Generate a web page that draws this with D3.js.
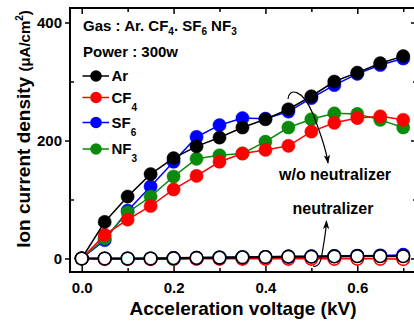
<!DOCTYPE html>
<html>
<head>
<meta charset="utf-8">
<script src="https://cdn.jsdelivr.net/npm/d3@7"></script>
<style>
  html, body { margin: 0; padding: 0; background: #fff; }
  svg { display: block; }
  text { font-family: "Liberation Sans", Arial, sans-serif; font-weight: bold; fill: #000; }
</style>
</head>
<body>
<svg id="chart" width="414" height="324"></svg>
<script>
// Acceleration voltage (kV)
const voltage = [0, 0.05, 0.1, 0.15, 0.2, 0.25, 0.3, 0.35, 0.4, 0.45, 0.5, 0.55, 0.6, 0.65, 0.7];

// Ion current density without neutralizer (uA/cm^2)
const arNoNeut  = [0, 62, 105, 143, 170, 190, 205, 222, 236, 253, 275, 300, 315, 331, 343];
const cf4NoNeut = [0, 40, 66, 89, 117, 140, 164, 178, 184, 191, 215, 230, 238, 241, 235];
const sf6NoNeut = [0, 31, 81, 122, 164, 206, 226, 238, 237, 249, 272, 294, 313, 328, 339];
const nf3NoNeut = [0, 34, 78, 105, 139, 169, 175, 178, 198, 222, 236, 246, 245, 235, 222];

// Ion current density with neutralizer (uA/cm^2)
const arNeut  = [0, 0, 0, 0, 0.5, 1, 1.5, 2, 2.5, 3, 3, 3.5, 4, 4, 4];
const cf4Neut = [0, -1, -1, -1, -1, -0.5, -0.5, -0.5, -0.5, -0.5, -0.5, -0.5, -0.5, -0.5, -1];
const sf6Neut = [0, 0, 0, 0, 0.5, 1, 1.5, 2, 2.5, 3, 3.5, 4, 4.5, 5, 6];
const nf3Neut = [0, 0, 0, 0, 0.5, 1, 1.5, 2, 2.5, 3, 3, 3.5, 4, 4, 4];

// Axis ticks
const xMajorTicks = [0, 0.2, 0.4, 0.6];
const xMinorTicks = [0.1, 0.3, 0.5, 0.7];
const yMajorTicks = [0, 200, 400];
const yMinorTicks = [100, 300];

const colors = { Ar: "#000000", CF4: "#ff0000", SF6: "#0000ff", NF3: "#0a8a0a" };

const svg = d3.select("#chart");
const plotL = 70, plotT = 8, plotR = 417, plotB = 272;

const x = d3.scaleLinear().domain([-0.0255, 0.73]).range([plotL, plotR]);
const y = d3.scaleLinear().domain([-22.9, 424.6]).range([plotB, plotT]);

// Ticks: bottom and top inward, left majors outward, right inward
const fmtX = d3.format(".1f");
svg.append("g").attr("transform", `translate(0,${plotB})`)
  .call(d3.axisBottom(x).tickValues(xMajorTicks).tickSize(-6).tickPadding(10).tickFormat(fmtX))
  .call(g => g.select(".domain").remove());
svg.append("g").attr("transform", `translate(0,${plotB})`)
  .call(d3.axisBottom(x).tickValues(xMinorTicks).tickSize(-4).tickFormat(""))
  .call(g => g.select(".domain").remove());
svg.append("g").attr("transform", `translate(0,${plotT})`)
  .call(d3.axisTop(x).tickValues(xMajorTicks).tickSize(-6).tickFormat(""))
  .call(g => g.select(".domain").remove());
svg.append("g").attr("transform", `translate(0,${plotT})`)
  .call(d3.axisTop(x).tickValues(xMinorTicks).tickSize(-4).tickFormat(""))
  .call(g => g.select(".domain").remove());
svg.append("g").attr("transform", `translate(${plotL},0)`)
  .call(d3.axisLeft(y).tickValues(yMajorTicks).tickSize(5).tickPadding(3))
  .call(g => g.select(".domain").remove());
svg.append("g").attr("transform", `translate(${plotL},0)`)
  .call(d3.axisLeft(y).tickValues(yMinorTicks).tickSize(-4).tickFormat(""))
  .call(g => g.select(".domain").remove());
svg.append("g").attr("transform", `translate(${plotR},0)`)
  .call(d3.axisRight(y).tickValues(yMajorTicks).tickSize(-6).tickFormat(""))
  .call(g => g.select(".domain").remove());
svg.append("g").attr("transform", `translate(${plotR},0)`)
  .call(d3.axisRight(y).tickValues(yMinorTicks).tickSize(-4).tickFormat(""))
  .call(g => g.select(".domain").remove());

svg.selectAll(".tick line").attr("stroke", "#000").attr("stroke-width", 1.5);
svg.selectAll(".tick text").style("font-size", "15px").style("font-family", "'Liberation Sans', Arial, sans-serif").style("font-weight", "bold").attr("fill", "#000");

// Plot frame
svg.append("rect")
  .attr("x", plotL).attr("y", plotT)
  .attr("width", plotR - plotL).attr("height", plotB - plotT)
  .attr("fill", "none").attr("stroke", "#000").attr("stroke-width", 2);

const line = d3.line().x(d => x(d[0])).y(d => y(d[1]));

// Neutralizer curves: open circles
const neutSeries = [
  { vals: nf3Neut, color: colors.NF3 },
  { vals: cf4Neut, color: colors.CF4 },
  { vals: sf6Neut, color: colors.SF6 },
  { vals: arNeut,  color: colors.Ar }
];
neutSeries.forEach(s => {
  const pts = voltage.map((v, i) => [v, s.vals[i]]);
  svg.append("path").attr("d", line(pts))
    .attr("fill", "none").attr("stroke", s.color).attr("stroke-width", s.color === colors.Ar ? 2.2 : 1.6);
  svg.append("g").selectAll("circle").data(pts).join("circle")
    .attr("cx", d => x(d[0])).attr("cy", d => y(d[1])).attr("r", 6.3)
    .attr("fill", "#fff").attr("stroke", s.color).attr("stroke-width", 1.6);
});

// Curves without neutralizer: filled circles
const series = [
  { vals: sf6NoNeut, color: colors.SF6 },
  { vals: nf3NoNeut, color: colors.NF3 },
  { vals: cf4NoNeut, color: colors.CF4 },
  { vals: arNoNeut,  color: colors.Ar }
];
series.forEach(s => {
  const full = voltage.map((v, i) => [v, s.vals[i]]);
  const pts = full.filter((d, i) => i > 0);
  svg.append("path").attr("d", line(full))
    .attr("fill", "none").attr("stroke", s.color).attr("stroke-width", 1.5);
  svg.append("g").selectAll("circle").data(pts).join("circle")
    .attr("cx", d => x(d[0])).attr("cy", d => y(d[1])).attr("r", 6.6)
    .attr("fill", s.color).attr("stroke", s.color).attr("stroke-width", 0.5);
});

// Origin marker as an open circle on top
svg.append("circle").attr("cx", x(voltage[0])).attr("cy", y(arNeut[0])).attr("r", 6.3)
  .attr("fill", "#fff").attr("stroke", "#000").attr("stroke-width", 1.6);

// Header text
const hdr = svg.append("text").attr("x", 83).attr("y", 30.5).style("font-size", "15px");
hdr.append("tspan").text("Gas : Ar. CF");
hdr.append("tspan").text("4").style("font-size", "10px").attr("dy", 4);
hdr.append("tspan").text(". SF").attr("dy", -4);
hdr.append("tspan").text("6").style("font-size", "10px").attr("dy", 4);
hdr.append("tspan").text(" NF").attr("dy", -4);
hdr.append("tspan").text("3").style("font-size", "10px").attr("dy", 4);

svg.append("text").attr("x", 83).attr("y", 57).style("font-size", "15px").text("Power : 300w");

// Legend
const legend = [
  { name: "Ar", sub: "", color: colors.Ar, cy: 76 },
  { name: "CF", sub: "4", color: colors.CF4, cy: 97.5 },
  { name: "SF", sub: "6", color: colors.SF6, cy: 122.5 },
  { name: "NF", sub: "3", color: colors.NF3, cy: 149 }
];
legend.forEach(l => {
  svg.append("line").attr("x1", 82.5).attr("x2", 109).attr("y1", l.cy).attr("y2", l.cy)
    .attr("stroke", l.color).attr("stroke-width", 1.5);
  svg.append("circle").attr("cx", 96).attr("cy", l.cy).attr("r", 5.8).attr("fill", l.color);
  const t = svg.append("text").attr("x", 111.5).attr("y", l.cy + 5.3).style("font-size", "15px");
  t.append("tspan").text(l.name);
  if (l.sub) t.append("tspan").text(l.sub).style("font-size", "10px").attr("dy", 8);
});

// Annotation arrows
const defs = svg.append("defs");
defs.append("marker").attr("id", "head").attr("viewBox", "0 0 10 10")
  .attr("refX", 9).attr("refY", 5).attr("markerWidth", 9).attr("markerHeight", 9)
  .attr("markerUnits", "userSpaceOnUse").attr("orient", "auto")
  .append("path").attr("d", "M0,1.5 L10,5 L0,8.5 L2.5,5 Z").attr("fill", "#000");

svg.append("path").attr("d", "M288,99 C289,88 302,88 313,114 C320,132 326,148 328,163")
  .attr("fill", "none").attr("stroke", "#000").attr("stroke-width", 1.2).attr("marker-end", "url(#head)");
svg.append("path").attr("d", "M313,266 C318,268 321,262 322,254 C324,242 326,232 326.5,221")
  .attr("fill", "none").attr("stroke", "#000").attr("stroke-width", 1.2).attr("marker-end", "url(#head)");

svg.append("text").attr("x", 335).attr("y", 180).attr("text-anchor", "middle").style("font-size", "16px").text("w/o neutralizer");
svg.append("text").attr("x", 333).attr("y", 213.5).attr("text-anchor", "middle").style("font-size", "16px").text("neutralizer");

// Axis titles
svg.append("text").attr("x", 243).attr("y", 315).attr("text-anchor", "middle").style("font-size", "19px")
  .text("Acceleration voltage (kV)");
const yt = svg.append("text").attr("transform", "translate(30,129) rotate(-90)").attr("text-anchor", "middle").style("font-size", "19px");
yt.append("tspan").text("Ion current density ");
yt.append("tspan").text("(μA/cm").style("font-size", "15px");
yt.append("tspan").text("2").style("font-size", "10px").attr("dy", -7);
yt.append("tspan").text(")").style("font-size", "15px").attr("dy", 7);
</script>
</body>
</html>
